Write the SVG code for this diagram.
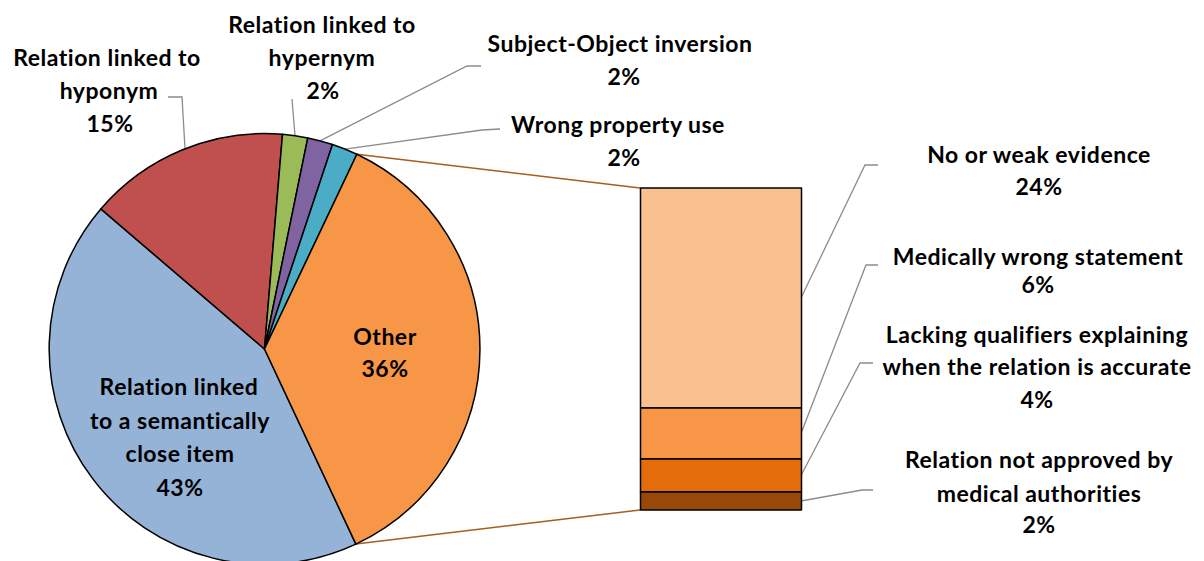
<svg xmlns="http://www.w3.org/2000/svg" width="1204" height="561" viewBox="0 0 1204 561">
<style>
text{font-family:Lato,"Liberation Sans","DejaVu Sans",sans-serif;font-weight:700;font-size:23px;letter-spacing:0.5px;fill:#000;text-anchor:middle}
.sl{stroke:#000;stroke-width:1.5;stroke-linejoin:round}
.ld{fill:none;stroke:#8c8c8c;stroke-width:1.3}
.cn{fill:none;stroke:#A65E1C;stroke-width:1.5}
</style>
<rect width="1204" height="561" fill="#fff"/>
<g id="connectors">
<polyline class="cn" points="356.9,154.3 640,188"/>
<polyline class="cn" points="355.9,544.1 640,510"/>
<polyline class="ld" points="168,97 182,97 185,148.7"/>
<polyline class="ld" points="292,99 295,135.7"/>
<polyline class="ld" points="481,66 467,66 320,140.8"/>
<polyline class="ld" points="500,129 482,130 345,149.1"/>
<polyline class="ld" points="878,165 865,165 801,298"/>
<polyline class="ld" points="878,265 866,265 801,433.5"/>
<polyline class="ld" points="873,363 860,363 801,475.5"/>
<polyline class="ld" points="873,490 862,490 801,501"/>
</g>
<g id="slice-semantic">
<path class="sl" fill="#95B3D7" d="M264.5,349 L355.9,544.1 A215.5,215.5 0 0 1 100.8,208.9 Z"/>
<text x="179" y="395">Relation linked</text>
<text x="180" y="429">to a semantically</text>
<text x="180" y="462">close item</text>
<text x="180" y="496">43%</text>
</g>
<g id="slice-hyponym">
<path class="sl" fill="#C0504D" d="M264.5,349 L100.8,208.9 A215.5,215.5 0 0 1 282.5,134.3 Z"/>
<text x="107" y="66">Relation linked to</text>
<text x="109" y="99">hyponym</text>
<text x="110" y="132">15%</text>
</g>
<g id="slice-hypernym">
<path class="sl" fill="#9BBB59" d="M264.5,349 L282.5,134.3 A215.5,215.5 0 0 1 307.8,137.9 Z"/>
<text x="322" y="33">Relation linked to</text>
<text x="322" y="66">hypernym</text>
<text x="323" y="99">2%</text>
</g>
<g id="slice-inversion">
<path class="sl" fill="#8064A2" d="M264.5,349 L307.8,137.9 A215.5,215.5 0 0 1 332.5,144.5 Z"/>
<text x="620" y="52">Subject-Object inversion</text>
<text x="624" y="85">2%</text>
</g>
<g id="slice-property">
<path class="sl" fill="#4BACC6" d="M264.5,349 L332.5,144.5 A215.5,215.5 0 0 1 356.9,154.3 Z"/>
<text x="618" y="133">Wrong property use</text>
<text x="624" y="166">2%</text>
</g>
<g id="slice-other">
<path class="sl" fill="#F79646" d="M264.5,349 L356.9,154.3 A215.5,215.5 0 0 1 355.9,544.1 Z"/>
<text x="385" y="345">Other</text>
<text x="385" y="377">36%</text>
</g>
<g id="bar-evidence">
<rect class="sl" x="640.5" y="188" width="161" height="220" fill="#FAC090"/>
<text x="1039" y="163">No or weak evidence</text>
<text x="1039" y="195">24%</text>
</g>
<g id="bar-medical">
<rect class="sl" x="640.5" y="408" width="161" height="51" fill="#F79646"/>
<text x="1038" y="265">Medically wrong statement</text>
<text x="1038" y="293">6%</text>
</g>
<g id="bar-qualifiers">
<rect class="sl" x="640.5" y="459" width="161" height="33" fill="#E46C0A"/>
<text x="1037" y="343">Lacking qualifiers explaining</text>
<text x="1037" y="375">when the relation is accurate</text>
<text x="1037" y="408">4%</text>
</g>
<g id="bar-authorities">
<rect class="sl" x="640.5" y="492" width="161" height="18" fill="#984807"/>
<text x="1039" y="468">Relation not approved by</text>
<text x="1039" y="502">medical authorities</text>
<text x="1039" y="533">2%</text>
</g>
</svg>
